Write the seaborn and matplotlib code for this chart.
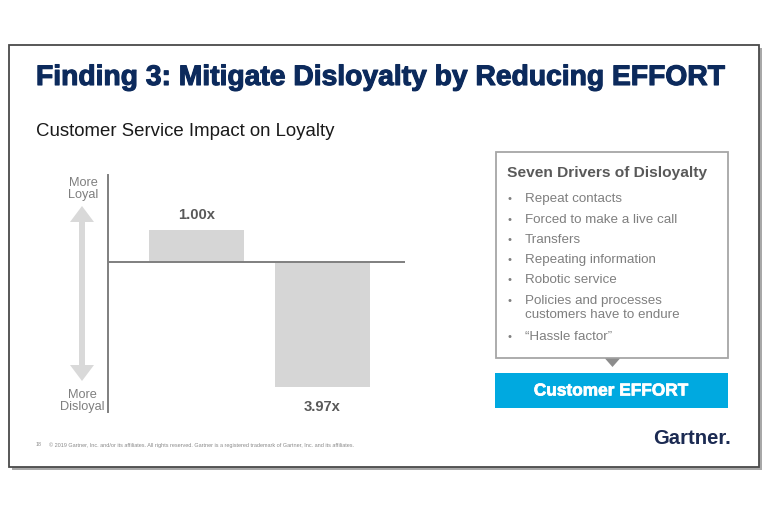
import matplotlib
matplotlib.use("Agg")
import matplotlib.pyplot as plt
import matplotlib.patheffects as pe
import seaborn as sns
from matplotlib.patches import Rectangle, Polygon

# ---------------- data ----------------
categories = ["Exceeds expectations", "High effort"]
values = [1.00, -3.97]
value_labels = ["1.00x", "3.97x"]
drivers = [
    "Repeat contacts",
    "Forced to make a live call",
    "Transfers",
    "Repeating information",
    "Robotic service",
    "Policies and processes\ncustomers have to endure",
    "\u201cHassle factor\u201d",
]
title = "Finding 3: Mitigate Disloyalty by Reducing EFFORT"
subtitle = "Customer Service Impact on Loyalty"
box_title = "Seven Drivers of Disloyalty"
effort_label = "Customer EFFORT"
footer = ("\u00a9 2019 Gartner, Inc. and/or its affiliates. All rights reserved. "
          "Gartner is a registered trademark of Gartner, Inc. and its affiliates.")
page_no = "18"

sns.set_theme(style="white")
plt.rcParams["font.family"] = ["Liberation Sans", "DejaVu Sans"]

W, H = 768, 512
fig = plt.figure(figsize=(W / 100, H / 100), dpi=100)
fig.patch.set_facecolor("white")

# background axes in pixel coordinates
bg = fig.add_axes([0, 0, 1, 1], zorder=0)
bg.set_xlim(0, W)
bg.set_ylim(H, 0)
bg.axis("off")

renderer = fig.canvas.get_renderer()


def fit(t, target_w):
    ext = t.get_window_extent(renderer=renderer)
    t.set_fontsize(t.get_fontsize() * target_w / ext.width)


def heavy(t, color, lw):
    t.set_path_effects([pe.Stroke(linewidth=lw, foreground=color), pe.Normal()])


# slide frame with shadow
bg.add_patch(Rectangle((12, 48), 750, 422, facecolor="#a8a8a8", edgecolor="none", zorder=1))
bg.add_patch(Rectangle((9, 45), 750, 422, facecolor="white", edgecolor="#4a4a4a", lw=1.3, zorder=2))

navy = "#0c2a5c"
t = bg.text(36, 78, title, fontsize=16, fontweight="bold", color=navy, va="center", ha="left", zorder=5)
fit(t, 688)
heavy(t, navy, 0.8)
t = bg.text(36, 132, subtitle, fontsize=12, color="#1a1a1a", va="center", ha="left", zorder=5)
fit(t, 301)

# left scale arrow
grey_arrow = "#d9d9d9"
ax_x = 82
arrow = Polygon([
    (ax_x, 206), (ax_x + 12, 222), (ax_x + 3, 222), (ax_x + 3, 365), (ax_x + 12, 365),
    (ax_x, 381), (ax_x - 12, 365), (ax_x - 3, 365), (ax_x - 3, 222), (ax_x - 12, 222)
], closed=True, facecolor=grey_arrow, edgecolor="none", zorder=3)
bg.add_patch(arrow)
lab_col = "#7f7f7f"
bg.text(83, 189, "More\nLoyal", fontsize=9.2, color=lab_col, ha="center", va="center",
        linespacing=1.0, zorder=5)
bg.text(82, 401, "More\nDisloyal", fontsize=9.2, color=lab_col, ha="center", va="center",
        linespacing=1.0, zorder=5)

# ---------------- bar chart ----------------
left_px, right_px, top_px, bot_px = 108, 405, 175, 412
ax = fig.add_axes([left_px / W, 1 - bot_px / H, (right_px - left_px) / W, (bot_px - top_px) / H], zorder=4)
ax.patch.set_alpha(0)
sns.barplot(x=categories, y=values, ax=ax, color="#d6d6d6", saturation=1, width=0.754,
            edgecolor="none")
ax.set_xlim(-0.702, 1.655)
ax.set_ylim(-4.76, 2.76)
ax.axhline(0, color="#7f7f7f", lw=1.4, zorder=5)
for s in ["top", "right", "bottom"]:
    ax.spines[s].set_visible(False)
ax.spines["left"].set_color("#7f7f7f")
ax.spines["left"].set_linewidth(1.4)
ax.set_xticks([])
ax.set_yticks([])
ax.set_xlabel("")
ax.set_ylabel("")
for i, (v, lab) in enumerate(zip(values, value_labels)):
    off = 0.5 if v > 0 else -0.62
    ax.text(i, v + off, lab, ha="center", va="center", fontsize=10.6, fontweight="bold",
            color="#595959")

# ---------------- right box ----------------
bg.add_patch(Rectangle((496, 152), 232, 206, facecolor="white", edgecolor="#a6a6a6", lw=1.3, zorder=3))
t = bg.text(507, 173, box_title, fontsize=10.5, fontweight="bold", color="#595959",
            ha="left", va="center", zorder=5)
fit(t, 201)
ys = [199, 220, 240, 260, 280, 308, 337]
for y, d in zip(ys, drivers):
    bg.text(509, y if "\n" not in d else 301, "\u2022", fontsize=8, color="#7f7f7f",
            ha="center", va="center", zorder=5)
    bg.text(525, y, d, fontsize=9.6, color="#7f7f7f", ha="left", va="center",
            linespacing=1.15, zorder=5)
bg.add_patch(Polygon([(605, 358.5), (620, 358.5), (612.5, 367)], closed=True,
                     facecolor="#8c8c8c", edgecolor="none", zorder=4))
bg.add_patch(Rectangle((495, 373), 233, 35, facecolor="#00a9e0", edgecolor="none", zorder=3))
t = bg.text(611, 391, effort_label, fontsize=11.5, fontweight="bold", color="white",
            ha="center", va="center", zorder=5)
fit(t, 155)
heavy(t, "white", 0.5)

# footer
bg.text(36, 445, page_no, fontsize=3.8, color="#8a8a8a", ha="left", va="center", zorder=5)
t = bg.text(49, 445, footer, fontsize=3.6, color="#8a8a8a", ha="left", va="center", zorder=5)
fit(t, 308)
t = bg.text(653, 439, "Gartner.", fontsize=14, fontweight="bold", color="#1b2a52",
            ha="left", va="center", zorder=5)
fit(t, 78)

fig.savefig("out.png", dpi=100, facecolor="white")
